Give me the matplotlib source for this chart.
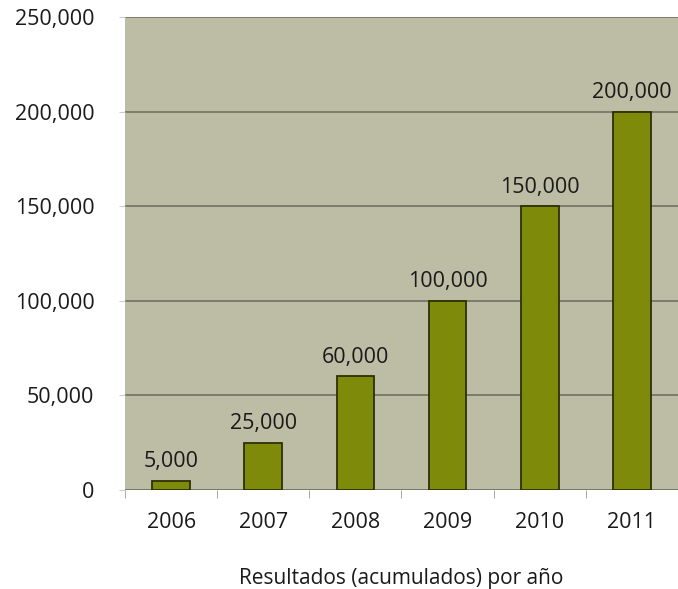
import matplotlib
matplotlib.use("Agg")
import matplotlib.pyplot as plt
from matplotlib.ticker import FuncFormatter

years = ["2006", "2007", "2008", "2009", "2010", "2011"]
values = [5000, 25000, 60000, 100000, 150000, 200000]
yticks = [0, 50000, 100000, 150000, 200000, 250000]
xlabel = "Resultados (acumulados) por año"

plt.rcParams['font.family'] = ['Open Sans', 'DejaVu Sans']

fig = plt.figure(figsize=(6.78, 5.89), dpi=100)
ax = fig.add_axes([125/678, 1 - 490/589, 553/678, 473/589])
ax.set_facecolor("#bdbca4")

x = list(range(len(years)))
ax.bar(x, values, width=0.41, color="#7e8a0a", edgecolor="#2e3000", linewidth=1.3, zorder=3)
for xi, v in zip(x, values):
    ax.text(xi, v + 4500, f"{v:,}", ha="center", va="bottom", fontsize=15.5, color="#1a1a1a", zorder=4)

ax.set_xlim(-0.5, len(years) - 0.5)
ax.set_ylim(0, 250000)
ax.set_yticks(yticks)
ax.yaxis.set_major_formatter(FuncFormatter(lambda v, p: "0" if v == 0 else f"{int(v):,}"))
ax.grid(axis="y", color="#77776a", linewidth=1.3, zorder=1)
ax.set_xticks(x)
ax.set_xticklabels(years)
ax.set_xticks([i - 0.5 for i in range(len(years) + 1)], minor=True)
ax.tick_params(axis="x", which="major", length=0, pad=16, labelsize=15.5, colors="#1a1a1a")
ax.tick_params(axis="x", which="minor", length=6, color="#999999")
ax.tick_params(axis="y", length=4, color="#cccccc", labelsize=15.5, colors="#1a1a1a", pad=18)
for s in ax.spines.values():
    s.set_visible(False)
ax.axhline(0, color="#77776a", linewidth=1.3, zorder=2)
ax.set_xlabel(xlabel, fontsize=15, color="#1a1a1a", labelpad=25)

fig.savefig("out.png", dpi=100)
